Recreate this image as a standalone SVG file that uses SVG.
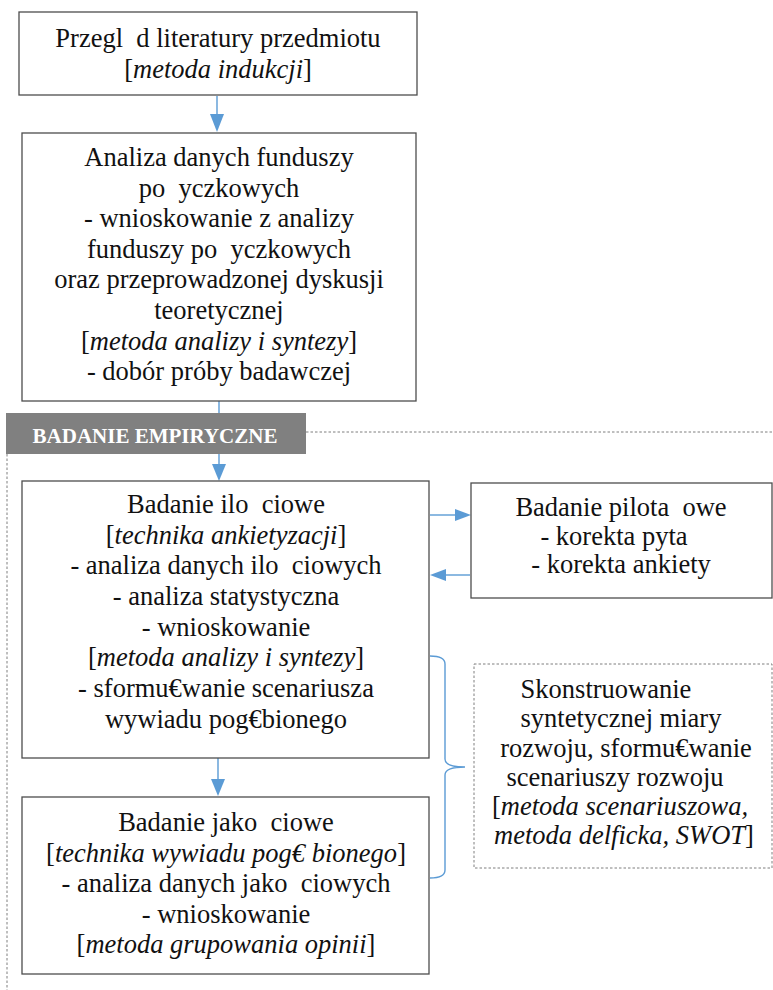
<svg xmlns="http://www.w3.org/2000/svg" width="773" height="990" viewBox="0 0 773 990">
<style>
  text { font-family: "Liberation Serif", "Times New Roman", serif; font-size: 26.5px; fill: #111; text-anchor: middle; }
  .i { font-style: italic; }
  .box { fill: #fff; stroke: #4d4d4d; stroke-width: 1.3; }
  .dash { fill: none; stroke: #7f7f7f; stroke-width: 1; stroke-dasharray: 2.5 2; }
  .con { fill: none; stroke: #5b9bd5; stroke-width: 1.4; }
  .banner { fill: #808080; }
  .btext { font-size: 21px; font-weight: bold; fill: #fff; }
</style>
<defs>
  <marker id="ah" markerWidth="12" markerHeight="12" viewBox="0 0 12 12" refX="12" refY="6" orient="auto" markerUnits="userSpaceOnUse">
    <path d="M0,0 L12,6 L0,12 Z" fill="#5b9bd5"/>
  </marker>
</defs>
<rect width="773" height="990" fill="#fff"/>

<g id="frame">
  <line class="dash" x1="306" y1="432" x2="773" y2="432"/>
  <line class="dash" x1="7" y1="454" x2="7" y2="990"/>
</g>

<g id="connectors">
  <path class="con" d="M217,96 V117" />
  <path d="M210,114 L224,114 L217,132 Z" fill="#5b9bd5"/>
  <path class="con" d="M219,401 V413" />
  <path class="con" d="M219,454 V466" />
  <path d="M212,464 L226,464 L219,481 Z" fill="#5b9bd5"/>
  <path class="con" d="M218,758 V780" />
  <path d="M211,779 L225,779 L218,796 Z" fill="#5b9bd5"/>
  <path class="con" d="M430,515 H456" />
  <path d="M455,509 L471,515 L455,521 Z" fill="#5b9bd5"/>
  <path class="con" d="M470,575 H444" />
  <path d="M446,569 L430,575 L446,581 Z" fill="#5b9bd5"/>
  <path class="con" d="M430,656 Q445,656 445,664 V759 Q445,767 465,767 Q445,767 445,775 V870 Q445,878 430,878" />
</g>

<g id="n1">
  <rect class="box" x="19" y="12" width="398" height="83"/>
  <text x="218" y="47">Przegl&#8194;d literatury przedmiotu</text>
  <text x="218" y="78">[<tspan class="i">metoda indukcji</tspan>]</text>
</g>

<g id="n2">
  <rect class="box" x="22" y="133" width="394" height="268"/>
  <text x="219" y="166">Analiza danych funduszy</text>
  <text x="219" y="196.6">po&#8194;yczkowych</text>
  <text x="219" y="227.2">- wnioskowanie z analizy</text>
  <text x="219" y="257.8">funduszy po&#8194;yczkowych</text>
  <text x="219" y="288.4">oraz przeprowadzonej dyskusji</text>
  <text x="219" y="319">teoretycznej</text>
  <text x="219" y="349.6">[<tspan class="i">metoda analizy i syntezy</tspan>]</text>
  <text x="219" y="380.2">- dobór próby badawczej</text>
</g>

<g id="banner">
  <rect class="banner" x="6" y="413" width="300" height="41"/>
  <text class="btext" x="155" y="443">BADANIE EMPIRYCZNE</text>
</g>

<g id="n3">
  <rect class="box" x="22" y="481" width="407" height="277"/>
  <text x="226" y="513">Badanie ilo&#8194;ciowe</text>
  <text x="226" y="543.7">[<tspan class="i">technika ankietyzacji</tspan>]</text>
  <text x="226" y="574.4">- analiza danych ilo&#8194;ciowych</text>
  <text x="226" y="605">- analiza statystyczna</text>
  <text x="226" y="635.7">- wnioskowanie</text>
  <text x="226" y="666.4">[<tspan class="i">metoda analizy i syntezy</tspan>]</text>
  <text x="226" y="697">- sformu€wanie scenariusza</text>
  <text x="226" y="727.8">wywiadu pog€bionego</text>
</g>

<g id="n4">
  <rect class="box" x="22" y="797" width="407" height="177"/>
  <text x="226" y="831">Badanie jako&#8194;ciowe</text>
  <text x="226" y="861.6">[<tspan class="i">technika wywiadu pog€ bionego</tspan>]</text>
  <text x="226" y="892.2">- analiza danych jako&#8194;ciowych</text>
  <text x="226" y="922.8">- wnioskowanie</text>
  <text x="226" y="953.4">[<tspan class="i">metoda grupowania opinii</tspan>]</text>
</g>

<g id="n5">
  <rect class="box" x="471" y="483" width="301" height="115"/>
  <text x="621" y="516">Badanie pilota&#8194;owe</text>
  <text x="614" y="545">- korekta pyta</text>
  <text x="621" y="573">- korekta ankiety</text>
</g>

<g id="n6">
  <rect class="dash" x="474" y="664" width="298" height="204"/>
  <text x="606" y="698">Skonstruowanie</text>
  <text x="621" y="727">syntetycznej miary</text>
  <text x="626" y="756.7">rozwoju, sformu€wanie</text>
  <text x="615" y="786">scenariuszy rozwoju</text>
  <text x="620" y="815">[<tspan class="i">metoda scenariuszowa,</tspan></text>
  <text x="624" y="844"><tspan class="i">metoda delficka, SWOT</tspan>]</text>
</g>
</svg>
